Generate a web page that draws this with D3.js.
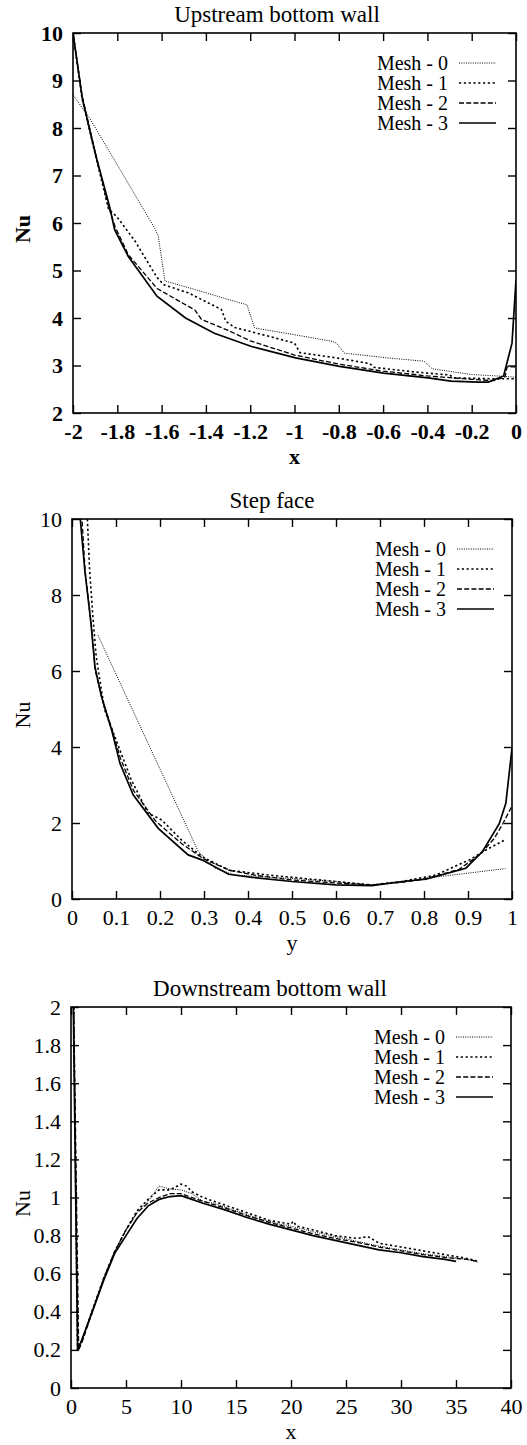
<!DOCTYPE html>
<html>
<head>
<meta charset="utf-8">
<script src="https://cdn.jsdelivr.net/npm/d3@7"></script>
<style>
  body { margin: 0; background: #fff; }
  text { font-family: "Liberation Serif", "Times New Roman", serif; fill: #000; }
</style>
</head>
<body>
<svg id="chart" width="527" height="1445"></svg>
<script>
// ---- data ----
var meshNames = ["Mesh - 0", "Mesh - 1", "Mesh - 2", "Mesh - 3"];

// Upstream bottom wall, x in [-2, 0]
var upXTicks = [-2, -1.8, -1.6, -1.4, -1.2, -1, -0.8, -0.6, -0.4, -0.2, 0];
var upYTicks = [2, 3, 4, 5, 6, 7, 8, 9, 10];
var up0 = [[-2,8.7],[-1.92,8.17],[-1.63,5.88],[-1.615,5.72],[-1.585,4.78],[-1.45,4.6],[-1.27,4.35],[-1.215,4.28],[-1.18,3.79],[-1.04,3.68],[-0.83,3.51],[-0.81,3.47],[-0.775,3.26],[-0.58,3.16],[-0.415,3.09],[-0.378,2.93],[-0.2,2.81],[-0.05,2.77],[0,2.75]];
var up1 = [[-2,10],[-1.96,8.65],[-1.9,7.45],[-1.84,6.3],[-1.8,6.12],[-1.72,5.62],[-1.64,5.0],[-1.62,4.85],[-1.59,4.7],[-1.48,4.53],[-1.33,4.18],[-1.31,3.93],[-1.27,3.8],[-1.12,3.62],[-1.0,3.47],[-0.975,3.27],[-0.81,3.16],[-0.66,3.04],[-0.64,2.96],[-0.45,2.86],[-0.3,2.8],[-0.28,2.74],[-0.1,2.72],[0,2.72]];
var up2 = [[-2,10],[-1.96,8.7],[-1.9,7.5],[-1.84,6.35],[-1.81,5.92],[-1.75,5.33],[-1.62,4.62],[-1.5,4.3],[-1.45,4.17],[-1.42,3.97],[-1.3,3.74],[-1.2,3.52],[-1.0,3.22],[-0.8,3.03],[-0.6,2.88],[-0.4,2.78],[-0.2,2.71],[-0.1,2.68],[-0.05,2.76],[-0.04,2.97],[0,2.97]];
var up3 = [[-2,10],[-1.957,8.6],[-1.896,7.4],[-1.835,6.35],[-1.812,5.86],[-1.751,5.3],[-1.621,4.46],[-1.492,4.0],[-1.362,3.68],[-1.194,3.4],[-0.995,3.16],[-0.797,2.98],[-0.598,2.84],[-0.397,2.74],[-0.293,2.67],[-0.171,2.65],[-0.125,2.65],[-0.056,2.78],[-0.018,3.47],[0,4.8]];

// Step face, y in [0, 1]
var stepXTicks = [0, 0.1, 0.2, 0.3, 0.4, 0.5, 0.6, 0.7, 0.8, 0.9, 1];
var stepYTicks = [0, 2, 4, 6, 8, 10];
var st0 = [[0.059,6.94],[0.287,1.25],[0.325,0.81],[0.371,0.63],[0.5,0.54],[0.6,0.46],[0.675,0.37],[0.75,0.44],[0.8,0.54],[0.985,0.8]];
var st1 = [[0.033,10.5],[0.04,8.67],[0.048,7.35],[0.055,6.38],[0.074,4.98],[0.097,4.28],[0.135,3.13],[0.173,2.26],[0.204,2.08],[0.249,1.55],[0.295,1.12],[0.356,0.76],[0.447,0.63],[0.6,0.46],[0.682,0.37],[0.75,0.46],[0.827,0.63],[0.903,1.03],[0.941,1.29],[0.983,1.55]];
var st2 = [[0.02,10.5],[0.03,8.6],[0.044,7.2],[0.053,6.0],[0.07,5.2],[0.09,4.5],[0.11,3.7],[0.14,2.85],[0.19,2.05],[0.25,1.45],[0.3,1.05],[0.36,0.75],[0.42,0.62],[0.5,0.5],[0.6,0.42],[0.68,0.37],[0.75,0.44],[0.8,0.52],[0.88,0.78],[0.93,1.2],[0.96,1.6],[0.98,2.0],[1.0,2.45]];
var st3 = [[0.015,10.5],[0.029,8.67],[0.043,7.27],[0.052,6.12],[0.067,5.33],[0.09,4.45],[0.109,3.57],[0.139,2.74],[0.196,1.86],[0.264,1.16],[0.295,1.03],[0.356,0.65],[0.409,0.57],[0.5,0.46],[0.6,0.37],[0.682,0.35],[0.75,0.46],[0.804,0.52],[0.895,0.81],[0.933,1.25],[0.971,1.98],[0.986,2.52],[1.0,3.97]];

// Downstream bottom wall, x in [0, 40]
var downXTicks = [0, 5, 10, 15, 20, 25, 30, 35, 40];
var downYTicks = [0, 0.2, 0.4, 0.6, 0.8, 1, 1.2, 1.4, 1.6, 1.8, 2];
var dn0 = [[0.2,2.2],[0.6,0.22],[1,0.25],[2,0.42],[3,0.58],[4,0.72],[5,0.83],[6,0.92],[7,0.98],[8,1.06],[9,1.045],[10,1.04],[11,1.02],[12,0.98],[13,0.97],[14,0.95],[15,0.93],[16,0.91],[17,0.89],[18,0.875],[19,0.86],[20,0.85],[22,0.82],[24,0.795],[26,0.77],[28,0.745],[30,0.725],[32,0.705],[34,0.69],[36,0.675],[37,0.66]];
var dn1 = [[0.2,2.2],[0.6,0.2],[1,0.25],[2,0.42],[3,0.58],[4,0.72],[5,0.83],[6,0.93],[7,0.99],[8,1.04],[9,1.04],[10,1.07],[10.5,1.06],[11,1.03],[12,1.0],[13,0.98],[14,0.96],[16,0.92],[18,0.88],[20,0.86],[20.2,0.875],[20.5,0.85],[22,0.83],[24,0.8],[26,0.785],[27,0.795],[28,0.76],[30,0.74],[32,0.72],[34,0.7],[36,0.68],[37,0.665]];
var dn2 = [[0.2,2.2],[0.7,0.2],[1,0.24],[2,0.41],[3,0.58],[4,0.72],[5,0.83],[6,0.92],[7,0.97],[8,1.0],[9,1.02],[10,1.02],[11,1.0],[12,0.98],[14,0.945],[16,0.905],[18,0.87],[20,0.84],[22,0.81],[24,0.785],[26,0.765],[28,0.74],[30,0.72],[32,0.7],[34,0.685],[36,0.675],[37,0.665]];
var dn3 = [[0.15,2.3],[0.6,0.2],[0.9,0.24],[2,0.41],[3,0.57],[4,0.71],[5,0.8],[6,0.89],[7,0.955],[8,0.99],[9,1.005],[10,1.01],[11,0.99],[12,0.97],[14,0.935],[16,0.895],[18,0.86],[20,0.83],[22,0.8],[24,0.775],[26,0.75],[28,0.725],[30,0.71],[32,0.69],[34,0.675],[35,0.665]];

// line styles for the 4 meshes
var meshDash = ["1,1.3", "2.2,2.6", "5,2.2", null];
var meshWidth = [1, 1.6, 1.3, 1.7];

var panels = [
    {id: "up", title: "Upstream bottom wall", xLabel: "x", bold: true,
     box: {l: 73, r: 516, t: 33, b: 413}, titleX: 277,
     xDomain: [-2, 0], yDomain: [2, 10], xTicks: upXTicks, yTicks: upYTicks,
     series: [up0, up1, up2, up3], legendX: 448},
    {id: "step", title: "Step face", xLabel: "y", bold: false,
     box: {l: 72, r: 512, t: 519, b: 899}, titleX: 272,
     xDomain: [0, 1], yDomain: [0, 10], xTicks: stepXTicks, yTicks: stepYTicks,
     series: [st0, st1, st2, st3], legendX: 446},
    {id: "down", title: "Downstream bottom wall", xLabel: "x", bold: false,
     box: {l: 71, r: 511, t: 1007, b: 1388}, titleX: 270,
     xDomain: [0, 40], yDomain: [0, 2], xTicks: downXTicks, yTicks: downYTicks,
     series: [dn0, dn1, dn2, dn3], legendX: 445}
];

var svg = d3.select("#chart");
var fmt = function(d) { return String(+d.toFixed(1)); };

panels.forEach(function(p) {
    var b = p.box;
    var x = d3.scaleLinear().domain(p.xDomain).range([b.l, b.r]);
    var y = d3.scaleLinear().domain(p.yDomain).range([b.b, b.t]);
    var g = svg.append("g").attr("class", "panel-" + p.id);
    var weight = p.bold ? "bold" : "normal";

    // title
    g.append("text")
        .attr("x", p.titleX).attr("y", b.t - 11)
        .attr("text-anchor", "middle")
        .style("font-size", "23px")
        .text(p.title);

    // axes, ticks pointing inwards on all four sides
    var bottom = g.append("g").attr("transform", "translate(0," + b.b + ")")
        .call(d3.axisBottom(x).tickValues(p.xTicks).tickFormat(fmt).tickSize(-8).tickPadding(10));
    var left = g.append("g").attr("transform", "translate(" + b.l + ",0)")
        .call(d3.axisLeft(y).tickValues(p.yTicks).tickFormat(fmt).tickSize(-8).tickPadding(10));
    g.append("g").attr("transform", "translate(0," + b.t + ")")
        .call(d3.axisTop(x).tickValues(p.xTicks).tickFormat("").tickSize(-8));
    g.append("g").attr("transform", "translate(" + b.r + ",0)")
        .call(d3.axisRight(y).tickValues(p.yTicks).tickFormat("").tickSize(-8));

    g.selectAll(".domain").remove();
    g.selectAll(".tick line").attr("stroke", "#000").attr("stroke-width", 1.4);
    [bottom, left].forEach(function(a) {
        a.selectAll("text")
            .style("font-family", '"Liberation Serif", "Times New Roman", serif')
            .style("font-size", "22px")
            .style("font-weight", weight)
            .attr("fill", "#000");
    });

    // frame
    g.append("rect")
        .attr("x", b.l).attr("y", b.t)
        .attr("width", b.r - b.l).attr("height", b.b - b.t)
        .attr("fill", "none").attr("stroke", "#000").attr("stroke-width", 1.6);

    // axis labels
    g.append("text")
        .attr("x", (b.l + b.r) / 2).attr("y", b.b + 51)
        .attr("text-anchor", "middle")
        .style("font-size", "22px").style("font-weight", weight)
        .text(p.xLabel);
    g.append("text")
        .attr("transform", "translate(30," + ((b.t + b.b) / 2 + 6) + ") rotate(-90)")
        .attr("text-anchor", "middle")
        .style("font-size", "22px").style("font-weight", weight)
        .text("Nu");

    // clip the curves to the plot box
    g.append("clipPath").attr("id", "clip-" + p.id)
        .append("rect")
        .attr("x", b.l).attr("y", b.t)
        .attr("width", b.r - b.l).attr("height", b.b - b.t);

    var line = d3.line()
        .x(function(d) { return x(d[0]); })
        .y(function(d) { return y(d[1]); });

    g.append("g").attr("clip-path", "url(#clip-" + p.id + ")")
        .selectAll("path")
        .data(p.series)
        .enter()
        .append("path")
        .attr("d", line)
        .attr("fill", "none")
        .attr("stroke", "#000")
        .attr("stroke-width", function(d, i) { return meshWidth[i]; })
        .attr("stroke-dasharray", function(d, i) { return meshDash[i]; });

    // legend
    var leg = g.append("g").attr("class", "legend");
    meshNames.forEach(function(name, i) {
        var ly = b.t + 30 + i * 20;
        leg.append("text")
            .attr("x", p.legendX).attr("y", ly)
            .attr("dy", "0.35em")
            .attr("text-anchor", "end")
            .style("font-size", "20px")
            .text(name);
        leg.append("line")
            .attr("x1", p.legendX + 11).attr("x2", p.legendX + 48)
            .attr("y1", ly).attr("y2", ly)
            .attr("stroke", "#000")
            .attr("stroke-width", meshWidth[i])
            .attr("stroke-dasharray", meshDash[i]);
    });
});
</script>
</body>
</html>
